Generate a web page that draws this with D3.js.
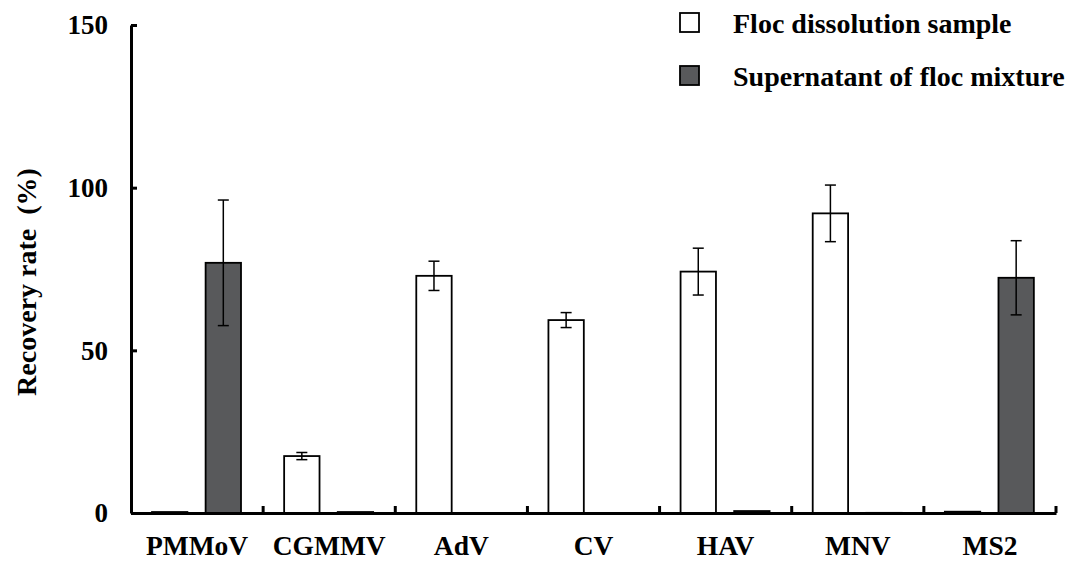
<!DOCTYPE html>
<html lang="en">
<head>
    <meta charset="UTF-8">
    <title>Recovery rate by virus</title>
    <script src="https://d3js.org/d3.v7.min.js"></script>
    <style>
        body {
            margin: 0;
            background-color: white;
        }

        svg text {
            font-family: "Liberation Serif", "Times New Roman", serif;
            font-weight: bold;
            fill: black;
        }
    </style>
</head>
<body>
    <svg id="chart"></svg>

    <script>
        // data
        var categories = ["PMMoV", "CGMMV", "AdV", "CV", "HAV", "MNV", "MS2"];
        var seriesNames = ["Floc dissolution sample", "Supernatant of floc mixture"];
        var flocValues = [0.3, 17.5, 72.9, 59.3, 74.2, 92.1, 0.4];
        var flocErrors = [0, 1.1, 4.5, 2.3, 7.2, 8.7, 0];
        var superValues = [76.9, 0.3, 0, 0, 0.6, 0.1, 72.3];
        var superErrors = [19.3, 0, 0, 0, 0, 0, 11.4];
        var yTicks = [0, 50, 100, 150];

        var width = 1069;
        var height = 563;
        var colors = ["#ffffff", "#58595b"];

        var svg = d3.select("#chart")
            .attr("width", width)
            .attr("height", height);

        var x = d3.scaleBand()
            .domain(categories)
            .range([131, 1056]);

        var xSeries = d3.scaleBand()
            .domain([0, 1])
            .range([21, 110])
            .paddingInner(0.34);

        var y = d3.scaleLinear()
            .domain([0, 150])
            .range([513, 25]);

        // build rows for bars
        var rows = [];
        categories.forEach(function (c, i) {
            rows.push({ cat: c, s: 0, v: flocValues[i], e: flocErrors[i] });
            rows.push({ cat: c, s: 1, v: superValues[i], e: superErrors[i] });
        });

        var bars = svg.append("g");
        bars.selectAll("rect")
            .data(rows.filter(function (d) { return d.v > 0; }))
            .enter().append("rect")
            .attr("x", function (d) { return x(d.cat) + xSeries(d.s); })
            .attr("width", xSeries.bandwidth())
            .attr("y", function (d) { return y(d.v); })
            .attr("height", function (d) { return y(0) - y(d.v); })
            .attr("fill", function (d) { return colors[d.s]; })
            .attr("stroke", function (d) { return d.v < 0.2 ? "#bbb" : "black"; })
            .attr("stroke-width", 1.8);

        // error bars
        var errs = svg.append("g")
            .attr("stroke", "black")
            .attr("stroke-width", 1.5);
        var withErr = rows.filter(function (d) { return d.e > 0; });
        var cx = function (d) { return x(d.cat) + xSeries(d.s) + xSeries.bandwidth() / 2; };
        errs.selectAll(".stem")
            .data(withErr)
            .enter().append("line")
            .attr("x1", cx).attr("x2", cx)
            .attr("y1", function (d) { return y(d.v + d.e); })
            .attr("y2", function (d) { return y(d.v - d.e); });
        [1, -1].forEach(function (sign) {
            errs.selectAll(".cap" + sign)
                .data(withErr)
                .enter().append("line")
                .attr("x1", function (d) { return cx(d) - 5.5; })
                .attr("x2", function (d) { return cx(d) + 5.5; })
                .attr("y1", function (d) { return y(d.v + sign * d.e); })
                .attr("y2", function (d) { return y(d.v + sign * d.e); });
        });

        // y axis, ticks pointing inward
        var yAxis = svg.append("g")
            .attr("transform", "translate(131,0)")
            .call(d3.axisLeft(y).tickValues(yTicks).tickSizeInner(-6).tickSizeOuter(0).tickPadding(23));
        yAxis.select(".domain").attr("stroke-width", 3);
        yAxis.selectAll(".tick line").attr("stroke-width", 3);
        yAxis.selectAll("text")
            .style("font-size", "27px")
            .attr("dy", "0.33em");

        // x axis with ticks between categories
        var xAxis = svg.append("g")
            .attr("transform", "translate(0,513)")
            .call(d3.axisBottom(x).tickSize(0));
        xAxis.select(".domain").attr("stroke-width", 3);
        xAxis.selectAll("text")
            .style("font-size", "27.5px")
            .attr("y", 42)
            .attr("dy", 0);

        var bounds = categories.slice(1).map(function (c) { return x(c); }).concat([x.range()[1]]);
        xAxis.selectAll(".sep")
            .data(bounds)
            .enter().append("line")
            .attr("x1", function (d) { return d; })
            .attr("x2", function (d) { return d; })
            .attr("y1", 0)
            .attr("y2", -7)
            .attr("stroke", "black")
            .attr("stroke-width", 3);

        // y label
        svg.append("text")
            .attr("transform", "rotate(-90)")
            .attr("x", -282)
            .attr("y", 36)
            .attr("text-anchor", "middle")
            .style("font-size", "28px")
            .style("white-space", "pre")
            .text("Recovery rate  (%)");

        // legend
        var legend = svg.selectAll(".legend")
            .data(seriesNames)
            .enter().append("g")
            .attr("transform", function (d, i) { return "translate(680," + (13 + i * 53) + ")"; });
        legend.append("rect")
            .attr("width", 19)
            .attr("height", 19)
            .attr("fill", function (d, i) { return colors[i]; })
            .attr("stroke", "black")
            .attr("stroke-width", 1.8);
        legend.append("text")
            .attr("x", 53)
            .attr("y", 20)
            .style("font-size", "28px")
            .text(function (d) { return d; });
    </script>
</body>
</html>
